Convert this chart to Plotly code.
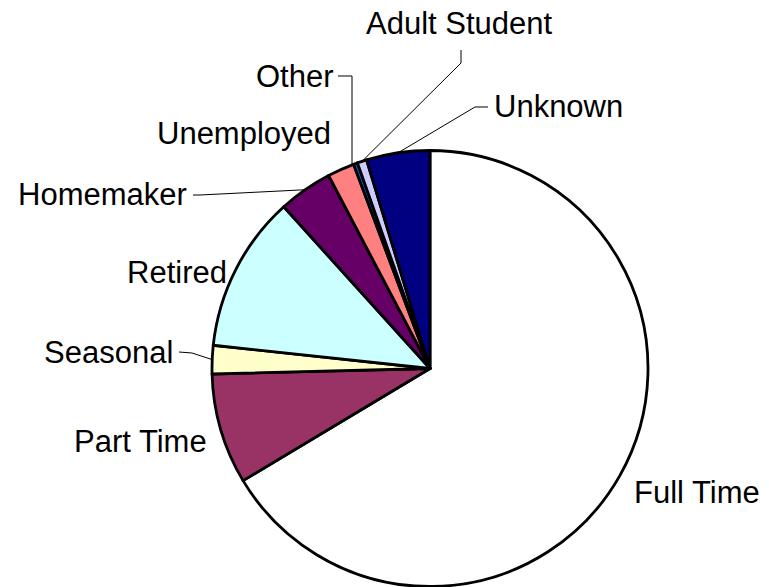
import math
import plotly.graph_objects as go

# ---- data ----
labels = ["Full Time", "Part Time", "Seasonal", "Retired", "Homemaker",
          "Unemployed", "Other", "Adult Student", "Unknown"]
values = [66.4, 8.2, 2.1, 11.6, 4.0, 2.0, 0.3, 0.7, 4.7]
colors = ["#FFFFFF", "#993366", "#FFFFCC", "#CCFFFF", "#660066",
          "#FF8080", "#0066CC", "#CCCCFF", "#000080"]

# ---- layout geometry (pixels) ----
W, H = 769, 587
CX, CY, R = 430, 368.5, 218
FONT = dict(family="Liberation Sans, Arial, sans-serif", size=31, color="#000000")

def px(x):
    return x / W

def py(y):
    return 1 - y / H

fig = go.Figure(go.Pie(
    labels=labels, values=values, sort=False, direction="clockwise", rotation=0,
    marker=dict(colors=colors, line=dict(color="#000000", width=2.8)),
    textinfo="none", hoverinfo="none", showlegend=False,
    domain=dict(x=[px(CX - R), px(CX + R)], y=[py(CY + R), py(CY - R)]),
))

# mid-angle edge point of each slice (clockwise from 12 o'clock)
total = sum(values)
edge = {}
acc = 0.0
for lab, v in zip(labels, values):
    mid = (acc + v / 2) / total * 2 * math.pi
    edge[lab] = (CX + R * math.sin(mid), CY - R * math.cos(mid))
    acc += v

# label placement: (left x, center y)
label_pos = {
    "Full Time": (633, 492),
    "Part Time": (73, 441),
    "Seasonal": (43, 352),
    "Retired": (126, 272),
    "Homemaker": (17, 195),
    "Unemployed": (156, 134),
    "Other": (255, 76),
    "Adult Student": (365, 23),
    "Unknown": (493, 106),
}

annotations = []
for lab, (x, y) in label_pos.items():
    annotations.append(dict(
        x=px(x), y=py(y), xref="paper", yref="paper", text=lab,
        showarrow=False, xanchor="left", yanchor="middle", font=FONT,
        borderpad=0,
    ))

# leader lines: elbow points (layout), ending at slice edge (from data)
leaders = {
    "Adult Student": [(461, 50), (461, 63)],
    "Other": [(338, 76), (352, 76)],
    "Unknown": [(488, 107), (475, 107)],
    "Homemaker": [(193, 195), (200, 195)],
    "Seasonal": [(179, 352), (192, 353)],
}
shapes = []
for lab, pts in leaders.items():
    ex, ey = edge[lab]
    if lab == "Other":
        ex_use = pts[-1][0]
        ey_use = CY - math.sqrt(R * R - (ex_use - CX) ** 2)
        pts = pts + [(ex_use, ey_use)]
    else:
        pts = pts + [(ex, ey)]
    path = "M " + " L ".join(f"{px(a):.5f},{py(b):.5f}" for a, b in pts)
    shapes.append(dict(type="path", path=path, xref="paper", yref="paper",
                       line=dict(color="#000000", width=1)))

fig.update_layout(
    width=W, height=H, margin=dict(l=0, r=0, t=0, b=0),
    paper_bgcolor="#FFFFFF", plot_bgcolor="#FFFFFF",
    annotations=annotations, shapes=shapes,
)

fig.write_html(
    "out.html",
    config={"displayModeBar": False},
    post_script="document.body.style.margin='0';document.body.style.overflow='hidden';",
)
